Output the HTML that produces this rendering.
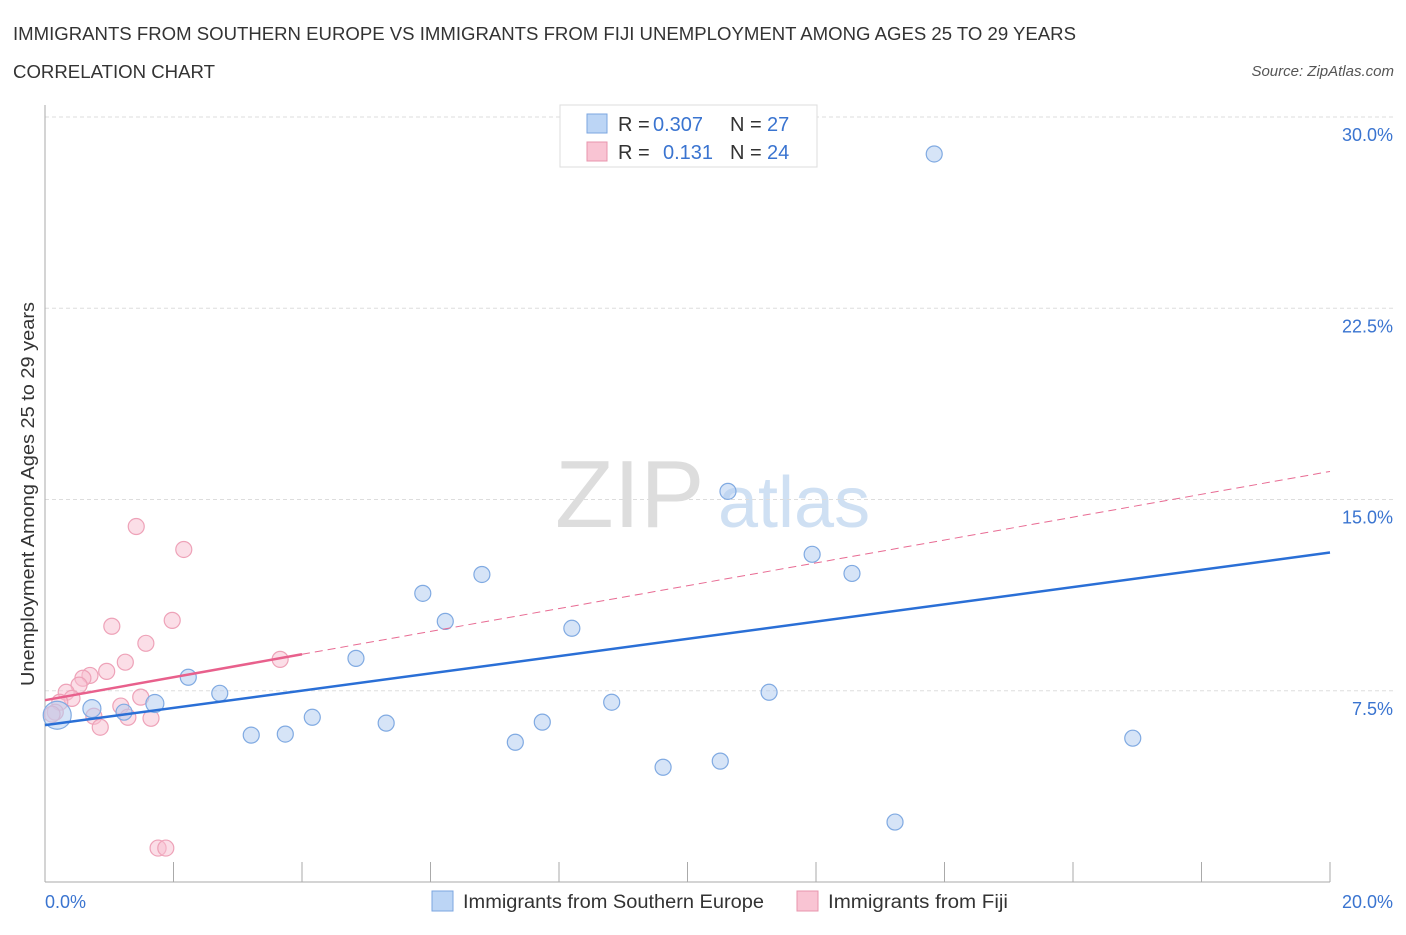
<!DOCTYPE html>
<html><head><meta charset="utf-8"><style>
body{margin:0;background:#fff;font-family:"Liberation Sans",sans-serif;}
svg text{font-family:"Liberation Sans",sans-serif;}
</style></head><body>
<svg id="chart" width="1406" height="930" xmlns="http://www.w3.org/2000/svg">
<text x="13" y="40" font-size="18" fill="#333" textLength="1063" lengthAdjust="spacingAndGlyphs">IMMIGRANTS FROM SOUTHERN EUROPE VS IMMIGRANTS FROM FIJI UNEMPLOYMENT AMONG AGES 25 TO 29 YEARS</text>
<text x="13" y="78" font-size="18" fill="#333" textLength="202" lengthAdjust="spacingAndGlyphs">CORRELATION CHART</text>
<text x="1394" y="76" font-size="15" fill="#555" font-style="italic" text-anchor="end">Source: ZipAtlas.com</text>
<g>
<text x="555" y="527" font-size="96" fill="#ddd" font-family="Liberation Serif">ZIP</text>
<text x="718" y="527" font-size="72" fill="#cfe0f3">atlas</text>
</g>
<g id="grid"></g>
<g id="axes"></g>
<g id="marks"></g>
<text transform="translate(34,494) rotate(-90)" font-size="18" fill="#333" text-anchor="middle" textLength="384" lengthAdjust="spacingAndGlyphs">Unemployment Among Ages 25 to 29 years</text>
<g>
<rect x="560" y="105" width="257" height="62" fill="#fff" stroke="#ddd"/>
<rect x="587" y="114" width="20" height="19" fill="#bcd5f5" stroke="#7ba6e0"/>
<rect x="587" y="142" width="20" height="19" fill="#f9c4d3" stroke="#e895ad"/>
<text x="618" y="131" font-size="20" fill="#333">R =</text>
<text x="653" y="131" font-size="20" fill="#3a74d0">0.307</text>
<text x="730" y="131" font-size="20" fill="#333">N =</text>
<text x="767" y="131" font-size="20" fill="#3a74d0">27</text>
<text x="618" y="159" font-size="20" fill="#333">R =</text>
<text x="663" y="159" font-size="20" fill="#3a74d0">0.131</text>
<text x="730" y="159" font-size="20" fill="#333">N =</text>
<text x="767" y="159" font-size="20" fill="#3a74d0">24</text>
</g>
<g>
<rect x="432" y="891" width="21" height="20" fill="#bcd5f5" stroke="#7ba6e0"/>
<text x="463" y="908" font-size="19" fill="#333" textLength="301" lengthAdjust="spacingAndGlyphs">Immigrants from Southern Europe</text>
<rect x="797" y="891" width="21" height="20" fill="#f9c4d3" stroke="#e895ad"/>
<text x="828" y="908" font-size="19" fill="#333" textLength="180" lengthAdjust="spacingAndGlyphs">Immigrants from Fiji</text>
</g>
</svg>
<script>
const blueX=[0.19,0.73,1.23,1.71,2.23,2.72,3.21,3.74,4.16,4.84,5.31,5.88,6.23,6.8,7.32,7.74,8.2,8.82,9.62,10.51,10.63,11.27,11.94,12.56,13.23,13.84,16.93];
const blueY=[6.54,6.8,6.66,7.0,8.03,7.4,5.76,5.8,6.46,8.77,6.23,11.32,10.22,12.06,5.48,6.27,9.95,7.05,4.5,4.74,15.32,7.44,12.85,12.1,2.35,28.55,5.64];
const blueR=[14,9,8,9,8,8,8,8,8,8,8,8,8,8,8,8,8,8,8,8,8,8,8,8,8,8,8];
const pinkX=[1.42,2.16,1.04,1.98,1.57,1.25,0.96,3.66,0.70,0.59,0.53,0.33,0.42,0.23,0.16,1.49,1.18,0.76,1.29,1.65,0.86,1.76,1.88,0.11];
const pinkY=[13.94,13.04,10.03,10.26,9.36,8.62,8.26,8.73,8.1,7.99,7.72,7.44,7.2,7.05,6.66,7.25,6.9,6.5,6.46,6.42,6.07,1.33,1.33,6.58];
const yTicks=[7.5,15,22.5,30];
const yTickLabels=["7.5%","15.0%","22.5%","30.0%"];
const xTicks=[0,2,4,6,8,10,12,14,16,18,20];
const blueTrend=[6.15,12.92];
const pinkTrend=[7.13,8.93,16.1];
const X=v=>45+v/20*1285, Y=v=>882-v/30*765;
const NS="http://www.w3.org/2000/svg";
function mk(parent,tag,attrs){const e=document.createElementNS(NS,tag);for(const k in attrs)e.setAttribute(k,attrs[k]);document.getElementById(parent).appendChild(e);return e;}
yTicks.forEach((t,i)=>{
 const g=mk('grid','line',{x1:45,x2:1395,y1:Y(t),y2:Y(t),stroke:'#ddd','stroke-dasharray':'4,3'});
 
 
 const l=mk('axes','text',{x:1393,y:Y(t)+24,'font-size':18,fill:'#3a74d0','text-anchor':'end'});
 l.textContent=yTickLabels[i];
 
 
});
const ax=mk('axes','line',{x1:45,x2:45,y1:105,y2:882,stroke:'#aaa'});


const bx=mk('axes','line',{x1:45,x2:1330,y1:882,y2:882,stroke:'#aaa'});


xTicks.forEach(t=>{const tk=mk('axes','line',{x1:X(t),x2:X(t),y1:862,y2:882,stroke:'#aaa'});
 
 });
const x0=mk('axes','text',{x:45,y:908,'font-size':18,fill:'#3a74d0'});x0.textContent='0.0%';


const x1=mk('axes','text',{x:1393,y:908,'font-size':18,fill:'#3a74d0','text-anchor':'end'});x1.textContent='20.0%';


pinkX.forEach((v,i)=>{const c=mk('marks','circle',{cx:X(v),cy:Y(pinkY[i]),r:8,fill:'rgba(248,190,207,0.5)',stroke:'#eea2b8','stroke-width':1.2});
 
 });
blueX.forEach((v,i)=>{const c=mk('marks','circle',{cx:X(v),cy:Y(blueY[i]),r:blueR[i],fill:'rgba(180,205,240,0.55)',stroke:'#80aae2','stroke-width':1.2});
 
 });
const bt=mk('marks','line',{x1:X(0),y1:Y(blueTrend[0]),x2:X(20),y2:Y(blueTrend[1]),stroke:'#2a6fd6','stroke-width':2.5});


const pd=mk('marks','line',{x1:X(4),y1:Y(pinkTrend[1]),x2:X(20),y2:Y(pinkTrend[2]),stroke:'#e86b93','stroke-width':1,'stroke-dasharray':'8,5'});


const pt=mk('marks','line',{x1:X(0),y1:Y(pinkTrend[0]),x2:X(4),y2:Y(pinkTrend[1]),stroke:'#e8608c','stroke-width':2.5});


</script>
</body></html>
